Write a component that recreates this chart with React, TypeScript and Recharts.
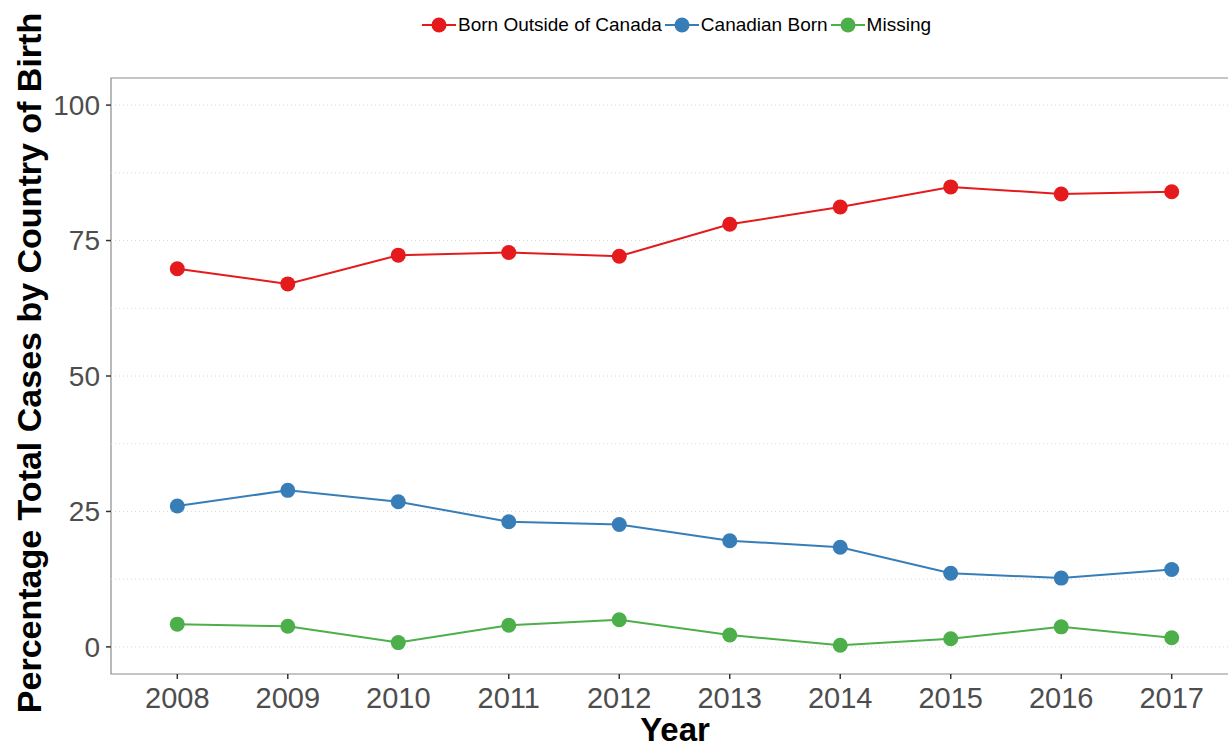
import React from 'react';
import { LineChart, Line, XAxis, YAxis, Legend, ReferenceLine, ReferenceArea, Label } from 'recharts';

const years = [2008, 2009, 2010, 2011, 2012, 2013, 2014, 2015, 2016, 2017];
const bornOutside = [69.8, 67.0, 72.3, 72.8, 72.1, 78.0, 81.2, 84.9, 83.6, 84.0];
const canadianBorn = [26.0, 28.9, 26.8, 23.1, 22.6, 19.6, 18.4, 13.6, 12.7, 14.3];
const missing = [4.2, 3.8, 0.8, 4.0, 5.0, 2.2, 0.3, 1.5, 3.7, 1.7];
const yTicks = [0, 25, 50, 75, 100];
const gridValues = [0, 12.5, 25, 37.5, 50, 62.5, 75, 87.5, 100];

const seriesNames = ['Born Outside of Canada', 'Canadian Born', 'Missing'];
const seriesKeys = ['bornOutside', 'canadianBorn', 'missing'];
const seriesColors = ['#E41A1C', '#377EB8', '#4DAF4A'];

const data = years.map((y, i) => ({
  year: y,
  bornOutside: bornOutside[i],
  canadianBorn: canadianBorn[i],
  missing: missing[i],
}));

const FONT = '"Liberation Sans", Arial, Helvetica, sans-serif';

const LegendContent = () => (
  <div style={{ display: 'flex', justifyContent: 'center', alignItems: 'center', fontFamily: FONT, fontSize: 19, color: '#000' }}>
    {seriesNames.map((n, i) => (
      <div key={n} style={{ display: 'flex', alignItems: 'center', marginRight: 3 }}>
        <svg width={34} height={18} style={{ marginRight: 2 }}>
          <line x1={0} y1={9} x2={34} y2={9} stroke={seriesColors[i]} strokeWidth={2} />
          <circle cx={17} cy={9} r={7.5} fill={seriesColors[i]} />
        </svg>
        <span style={{ lineHeight: '20px' }}>{n}</span>
      </div>
    ))}
  </div>
);

const YTitle = (props: any) => (
  <text
    x={29}
    y={363}
    transform={`rotate(-90, 29, 363)`}
    textAnchor="middle"
    dominantBaseline="central"
    style={{ fontFamily: FONT, fontWeight: 'bold', fontSize: 34, fill: '#000' }}
  >
    Percentage Total Cases by Country of Birth
  </text>
);

const XTitle = (props: any) => (
  <text
    x={675}
    y={741}
    textAnchor="middle"
    style={{ fontFamily: FONT, fontWeight: 'bold', fontSize: 33, fill: '#000' }}
  >
    Year
  </text>
);

export default function App() {
  return (
    <div style={{ position: 'absolute', left: 0, top: 0, width: 1228, height: 747, overflow: 'hidden', background: '#fff' }}>
      <LineChart
        width={1238}
        height={747}
        data={data}
        margin={{ top: 78, right: 0, bottom: 0, left: 0 }}
      >
        <XAxis
          dataKey="year"
          type="number"
          domain={[2007.4, 2017.6]}
          allowDataOverflow
          ticks={years}
          height={73}
          axisLine={false}
          tickLine={{ stroke: '#333', strokeWidth: 1.5 }}
          tickSize={5}
          tickMargin={8}
          tick={{ fill: '#4d4d4d', fontSize: 29, fontFamily: FONT }}
        >
          <Label content={<XTitle />} />
        </XAxis>
        <YAxis
          type="number"
          domain={[-5, 105]}
          allowDataOverflow
          ticks={yTicks}
          width={111}
          axisLine={false}
          tickLine={{ stroke: '#333', strokeWidth: 1.5 }}
          tickSize={5}
          tickMargin={6}
          tick={{ fill: '#4d4d4d', fontSize: 28, fontFamily: FONT }}
        >
          <Label content={<YTitle />} />
        </YAxis>
        {gridValues.map((v) => (
          <ReferenceLine key={v} y={v} stroke="#d6d6d6" strokeDasharray="1 3" strokeWidth={1} />
        ))}
        <ReferenceArea x1={2007.4} x2={2017.6} y1={-5} y2={105} fill="none" stroke="#8c8c8c" strokeWidth={1.2} />
        <Legend
          layout="horizontal"
          verticalAlign="middle"
          align="center"
          content={<LegendContent />}
          wrapperStyle={{ top: 15, left: 115, width: 1126 }}
        />
        {seriesKeys.map((k, i) => (
          <Line
            key={k}
            dataKey={k}
            name={seriesNames[i]}
            stroke={seriesColors[i]}
            strokeWidth={2}
            dot={{ r: 7.5, fill: seriesColors[i], stroke: 'none' }}
            activeDot={false}
            isAnimationActive={false}
          />
        ))}
      </LineChart>
    </div>
  );
}
